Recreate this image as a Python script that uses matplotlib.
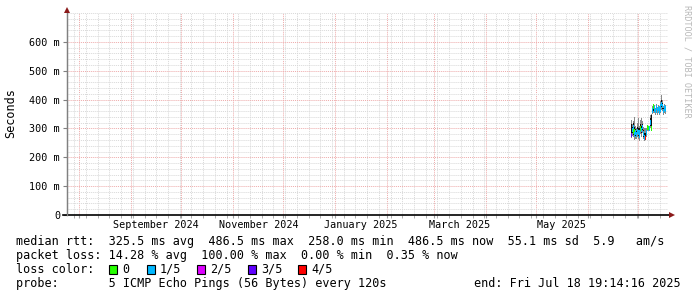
import datetime as dt
import numpy as np
import matplotlib
matplotlib.use("Agg")
import matplotlib.pyplot as plt
import matplotlib.dates as mdates
from matplotlib.patches import Rectangle

# ---------------- data ----------------
start_time = dt.datetime(2025, 6, 27, 0, 0)
step_hours = 12
median_ms = [277, 295, 305, 290, 280, 285, 278, 290, 285, 275, 288, 300, 295, 305, 282, 270, 268, 267,
             285, 303, 302, np.nan, 300, 320, 300, 362, 375, 365, 368, 360, 372, 362, 368, 358, 365, 375,
             385, 378, 360, 372, 368, 365]
smoke_hi = [330, 315, 325, 320, 340, 310, 300, 320, 335, 300, 310, 330, 336, 325, 305, 300, 290, 300,
            300, 310, 310, np.nan, 310, 345, 350, 378, 382, 378, 380, 372, 385, 375, 380, 372, 378, 395,
            416, 400, 378, 385, 380, 375]
smoke_lo = [268, 275, 280, 270, 260, 265, 262, 270, 265, 258, 270, 280, 272, 285, 262, 258, 258, 260,
            270, 290, 292, np.nan, 292, 300, 295, 350, 355, 352, 355, 348, 355, 348, 355, 345, 352, 358,
            365, 360, 348, 355, 352, 350]
core_hi = [315, 305, 318, 305, 300, 298, 290, 305, 300, 288, 300, 315, 310, 315, 295, 285, 280, 285,
           295, 305, 306, np.nan, 306, 335, 345, 370, 378, 372, 374, 366, 380, 370, 375, 366, 372, 385,
           398, 388, 370, 378, 375, 370]
core_lo = [275, 285, 292, 278, 270, 275, 270, 280, 275, 266, 278, 290, 283, 295, 272, 264, 263, 265,
           278, 295, 297, np.nan, 296, 308, 298, 356, 362, 358, 362, 354, 364, 355, 362, 352, 358, 366,
           375, 368, 352, 364, 360, 358]
loss_level = [3, 1, 1, 0, 1, 1, 1, 1, 1, 1, 1, 0, 1, 1, 1, 1, 1, 4,
              1, 0, 0, 0, 1, 1, 0, 1, 0, 1, 1, 1, 1, 1, 1, 1, 1, 1,
              1, 1, 1, 1, 1, 1]

loss_labels = ["0", "1/5", "2/5", "3/5", "4/5"]
loss_colors = ["#26ff00", "#00b8ff", "#dd00ff", "#6000ff", "#ff0000"]

x_start = dt.datetime(2024, 7, 24, 16, 0)
x_end = dt.datetime(2025, 7, 18, 19, 14, 16)
month_labels = ["September 2024", "November 2024", "January 2025", "March 2025", "May 2025"]
month_label_dates = [dt.datetime(2024, 9, 16), dt.datetime(2024, 11, 16), dt.datetime(2025, 1, 16),
                     dt.datetime(2025, 3, 16), dt.datetime(2025, 5, 16)]
y_ticks = [0.0, 0.1, 0.2, 0.3, 0.4, 0.5, 0.6]
y_tick_labels = ["0", "100 m", "200 m", "300 m", "400 m", "500 m", "600 m"]

stats_lines = [
    "median rtt:  325.5 ms avg  486.5 ms max  258.0 ms min  486.5 ms now  55.1 ms sd  5.9   am/s",
    "packet loss: 14.28 % avg  100.00 % max  0.00 % min  0.35 % now",
]
probe_line = "probe:       5 ICMP Echo Pings (56 Bytes) every 120s"
end_line = "end: Fri Jul 18 19:14:16 2025"

# ---------------- figure ----------------
W, H = 697, 297
fig = plt.figure(figsize=(W / 100, H / 100), dpi=100)
fig.patch.set_facecolor("white")
L, R, T, B = 67, 668, 13, 215
ax = fig.add_axes([L / W, 1 - B / H, (R - L) / W, (B - T) / H])
ax.set_facecolor("white")

mono = "DejaVu Sans Mono"
fs = 8.5
fs_tick = 7.3

times = [start_time + dt.timedelta(hours=step_hours * i) for i in range(len(median_ms))]
tnum = mdates.date2num(times)
med = np.array(median_ms, dtype=float) / 1000
shi = np.array(smoke_hi, dtype=float) / 1000
slo = np.array(smoke_lo, dtype=float) / 1000
chi = np.array(core_hi, dtype=float) / 1000
clo = np.array(core_lo, dtype=float) / 1000
barw = step_hours / 24.0 * 1.3

ax.bar(tnum, shi - slo, bottom=slo, width=barw, color="#8a8a8a", linewidth=0, zorder=3)
ax.bar(tnum, chi - clo, bottom=clo, width=barw, color="#101010", linewidth=0, zorder=4)
ax.bar(tnum, np.full(len(med), 0.016), bottom=med - 0.008, width=barw,
       color=[loss_colors[k] for k in loss_level], linewidth=0, zorder=5)

ax.set_xlim(mdates.date2num(x_start), mdates.date2num(x_end))
ax.set_ylim(0, 0.70)

ax.xaxis.set_major_locator(mdates.MonthLocator())
ax.xaxis.set_minor_locator(mdates.WeekdayLocator(byweekday=mdates.MO))
ax.xaxis.set_major_formatter(plt.NullFormatter())
ax.set_yticks(y_ticks)
ax.set_yticklabels(y_tick_labels, fontfamily=mono, fontsize=fs_tick)
ax.yaxis.set_minor_locator(matplotlib.ticker.MultipleLocator(0.02))

ax.grid(which="minor", color="#d8d8d8", linestyle=(0, (1, 1)), linewidth=0.7, zorder=1)
ax.grid(which="major", color="#eeaaaa", linestyle=(0, (1, 1)), linewidth=0.7, zorder=2)
ax.set_axisbelow(True)
ax.tick_params(axis="y", which="major", length=3, color="#808080", pad=2)
ax.tick_params(axis="y", which="minor", length=0)
ax.tick_params(axis="x", which="both", length=2, color="#a0a0a0", direction="out")

for s in ["top", "right"]:
    ax.spines[s].set_visible(False)
ax.spines["left"].set_color("#808080")
ax.spines["left"].set_linewidth(0.9)
ax.spines["bottom"].set_visible(False)

# bottom axis line and arrows (in axes fraction)
ax.plot([-4 / (R - L), (672 - L) / (R - L)], [0, 0], color="black", lw=1.2,
        transform=ax.transAxes, clip_on=False, zorder=6)
ax.plot([(672 - L) / (R - L)], [0], marker=">", color="#8b1a1a", markersize=5,
        transform=ax.transAxes, clip_on=False, zorder=7, markeredgewidth=0)
ax.plot([0, 0], [0, (B - 9) / (B - T)], color="#808080", lw=0.9,
        transform=ax.transAxes, clip_on=False, zorder=6)
ax.plot([0], [(B - 10) / (B - T)], marker="^", color="#8b1a1a", markersize=5,
        transform=ax.transAxes, clip_on=False, zorder=7, markeredgewidth=0)

for lab, d in zip(month_labels, month_label_dates):
    ax.text(mdates.date2num(d), -10 / (B - T), lab, transform=ax.get_xaxis_transform(),
            ha="center", va="center", fontfamily=mono, fontsize=fs_tick)

fig.text(11 / W, 1 - 113 / H, "Seconds", rotation=90, ha="center", va="center",
         fontfamily=mono, fontsize=fs)
fig.text(687 / W, 1 - 5 / H, "RRDTOOL / TOBI OETIKER", rotation=270, ha="center", va="top",
         fontfamily=mono, fontsize=6.1, color="#b8b8b8")

# legend / stats
ys = [241.5, 255.5, 269.5, 283.5]
for yy, line in zip(ys[:2], stats_lines):
    fig.text(16 / W, 1 - yy / H, line, ha="left", va="center", fontfamily=mono, fontsize=fs)
fig.text(16 / W, 1 - ys[2] / H, "loss color:", ha="left", va="center", fontfamily=mono, fontsize=fs)
sq_x = [109, 147, 197, 248, 298]
for lab, col, sx in zip(loss_labels, loss_colors, sq_x):
    fig.patches.append(Rectangle((sx / W, 1 - (ys[2] + 4.5) / H), 8 / W, 9 / H,
                                 transform=fig.transFigure, facecolor=col,
                                 edgecolor="black", linewidth=0.8, figure=fig))
    fig.text((sx + 13) / W, 1 - ys[2] / H, lab, ha="left", va="center", fontfamily=mono, fontsize=fs)
fig.text(16 / W, 1 - ys[3] / H, probe_line, ha="left", va="center", fontfamily=mono, fontsize=fs)
fig.text(681 / W, 1 - ys[3] / H, end_line, ha="right", va="center", fontfamily=mono, fontsize=fs)

fig.savefig("out.png", dpi=100, facecolor="white")
